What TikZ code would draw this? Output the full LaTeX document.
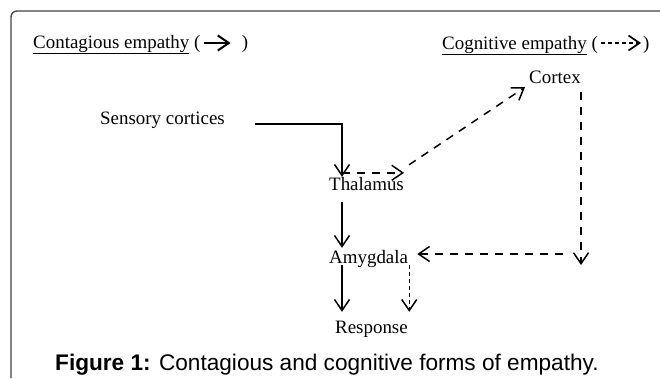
\documentclass[tikz,border=0pt]{standalone}
\usepackage{fontspec}
\setmainfont{Liberation Serif}
\newfontfamily\capfont{Liberation Sans}
\usetikzlibrary{arrows.meta}

\begin{document}
\begin{tikzpicture}[
    x=1bp, y=-1bp,
    txt/.style={font=\fontsize{19}{21}\selectfont, inner sep=0pt, text height=13bp, text depth=4bp, anchor=base west},
    solidarr/.style={-{Straight Barb[length=11bp, width=15bp]}, line width=1.5bp},
    dasharr/.style={solidarr, dash pattern=on 8bp off 7bp},
    dotarr/.style={solidarr, dash pattern=on 4bp off 3bp}
  ]
  \useasboundingbox (0,0) rectangle (660,378);
  \draw[line width=1.3bp, black!75, rounded corners=6bp] (11,378) -- (11,11) -- (660,11);

  % legend
  \node[txt] (legcon) at (33,48) {\underline{Contagious empathy} (};
  \draw[solidarr, line width=2bp] ([shift={(3,-5)}]legcon.base east) -- ++(27,0) coordinate (legconend);
  \node[txt] (legconr) at ([shift={(11,5)}]legconend) {)};
  \node[txt] (legcog) at (442,49) {\underline{Cognitive empathy} (};
  \draw[solidarr, dash pattern=on 4bp off 3bp, line width=1.7bp] ([shift={(3,-6)}]legcog.base east) -- ++(40,0) coordinate (legcogend);
  \node[txt] (legcogr) at ([shift={(2,6)}]legcogend) {)};

  % nodes
  \node[txt] (sens) at (100,124) {Sensory cortices};
  \node[txt] (thal) at (329,190) {Thalamus};
  \node[txt] (amyg) at (329,263) {Amygdala};
  \node[txt] (resp) at (335,333) {Response};
  \node[txt] (cort) at (529,83) {Cortex};
  \coordinate (cogturn) at (581,265);
  \coordinate (cogback) at (563,254);

  % contagious path
  \draw[solidarr, shorten <=30bp] (sens.base east) -| ([shift={(13,0)}]thal.north west);
  \draw[solidarr, shorten <=8bp, shorten >=2bp] ([shift={(13,0)}]thal.south west) -- ([shift={(13,0)}]amyg.north west);
  \draw[solidarr, shorten >=8bp] ([shift={(13,-2)}]amyg.south west) -- ([shift={(7,0)}]resp.north west);

  % cognitive path
  \draw[dasharr] ([shift={(13,-4)}]thal.north west) -- ([shift={(0,-4)}]thal.north east);
  \draw[dasharr] ([shift={(5,-12)}]thal.north east) -- ([shift={(-4,0)}]cort.south west);
  \draw[dasharr, shorten <=5bp] (cort.south east -| cogturn) -- (cogturn);
  \draw[dasharr] (cogback) -- ([shift={(9,0)}]amyg.east |- cogback);
  \draw[dotarr, shorten >=8bp] ([shift={(1,-2)}]amyg.south east) -- ([shift={(1,0)}]amyg.south east |- resp.north);

  \node[anchor=base west, inner sep=0pt, font=\capfont\fontsize{22.7}{26}\selectfont] (cap) at (55,370)
    {\textbf{Figure 1:} Contagious and cognitive forms of empathy.};
\end{tikzpicture}
\end{document}
